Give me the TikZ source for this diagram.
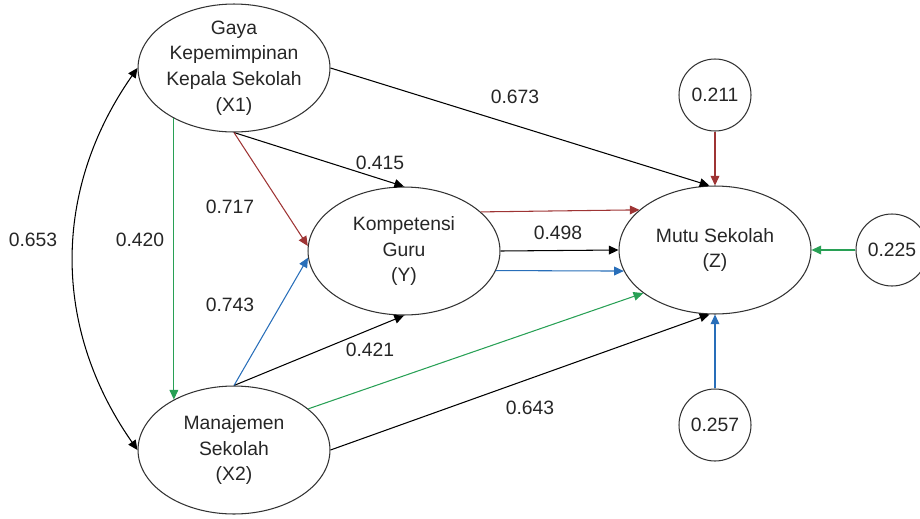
\documentclass[tikz,border=0pt]{standalone}
\usepackage{fontspec}
\setmainfont{Liberation Sans}
\usepackage{tikz}
\usetikzlibrary{calc}
\usetikzlibrary{positioning}
\usetikzlibrary{shapes}
\usetikzlibrary{arrows.meta}
\definecolor{pathred}{RGB}{158,52,52}
\definecolor{pathgreen}{RGB}{40,160,85}
\definecolor{pathblue}{RGB}{40,110,185}
\tikzset{latent/.style={shape=ellipse, minimum width=3.84cm, minimum height=2.56cm, inner sep=0pt, draw=black!80, line width=0.6pt},
  lbl/.style={align=center, font=\fontsize{11}{14.6}\selectfont, text=black!85},
  resid/.style={shape=circle, minimum size=1.44cm, inner sep=0pt, draw=black!80, line width=0.6pt, font=\fontsize{11}{13}\selectfont, text=black!85},
  coef/.style={font=\fontsize{11}{13}\selectfont, inner sep=1pt, text=black!85},
  effect/.style={line width=0.6pt, every edge/.append style={-{Triangle[length=5.5pt,width=5pt]}}},
  corr/.style={line width=0.6pt, {Triangle[length=5.5pt,width=5pt]}-{Triangle[length=5.5pt,width=5pt]}}}

\begin{document}
\begin{tikzpicture}[x=0.02cm, y=-0.02cm]
    \useasboundingbox (0,0) rectangle (920,518);

    % constructs
    \node[latent, label={[lbl]center:{Gaya\\Kepemimpinan\\Kepala Sekolah\\(X1)}}] (X1) at (234,68) {};
    \node[latent, label={[lbl]center:{Manajemen\\Sekolah\\(X2)}}] (X2) at (234,450) {};
    \node[latent, label={[lbl]center:{Kompetensi\\Guru\\(Y)}}] (Y) at (404,251) {};
    \node[latent, label={[lbl]center:{Mutu Sekolah\\(Z)}}] (Z) at (715,250) {};

    % residuals
    \node[resid] (e1) at (715,95) {0.211};
    \node[resid] (e2) at (892,250) {0.225};
    \node[resid] (e3) at (715,425) {0.257};

    % coefficients
    \node[coef] (cX1Z) at (515,97) {0.673};
    \node[coef] (cX1Y) at (380,163) {0.415};
    \node[coef] (cX1Yr) at (230,207) {0.717};
    \node[coef] (cX1X2) at (33,240) {0.653};
    \node[coef] (cX1X2g) at (140,240) {0.420};
    \node[coef] (cX2Yb) at (230,305) {0.743};
    \node[coef] (cX2Y) at (370,350) {0.421};
    \node[coef] (cYZ) at (558,233) {0.498};
    \node[coef] (cX2Z) at (530,408) {0.643};

    \draw[corr] (X1.west) to[out=235, in=125] (X2.west);

    \draw[effect]
    (X1.east) edge (Z.95)
    (X1.south) edge (Y.north)
    (X2.north) edge (Y.south)
    (X2.east) edge (Z.265)
    (Y.east) edge (Z.west);

    \draw[effect, pathred]
    (X1.south) edge (Y.177)
    (Y.27) edge (Z.152)
    (e1.south) edge (Z.north);

    \draw[effect, pathgreen]
    (X1.220) edge (X2.140)
    (X2.29) edge (Z.211)
    (e2.west) edge (Z.east);

    \draw[effect, pathblue]
    (X2.north) edge (Y.184)
    (Y.-12.5) edge (Z.193)
    (e3.north) edge (Z.south);
  \end{tikzpicture}
\end{document}
